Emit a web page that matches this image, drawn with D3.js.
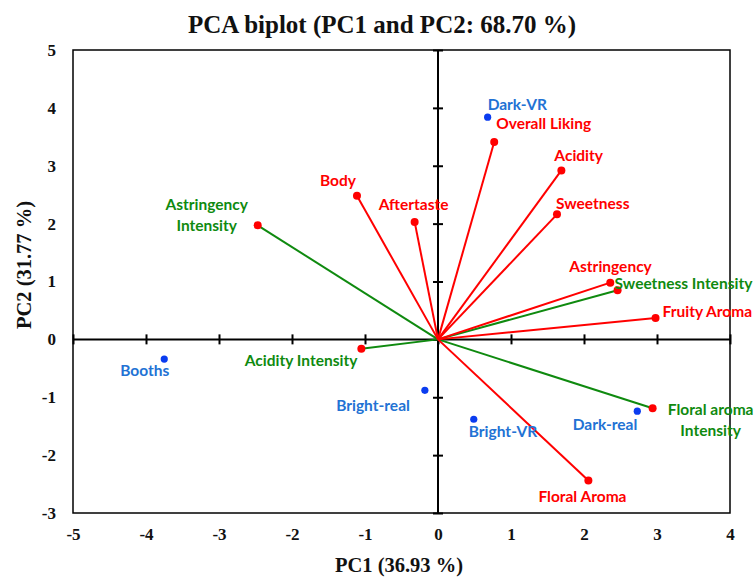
<!DOCTYPE html>
<html>
<head>
  <title>PCA biplot</title>
  <meta charset="utf-8">
  <script src="https://cdnjs.cloudflare.com/ajax/libs/d3/7.8.5/d3.min.js"></script>
  <style>
    body { margin: 0; background: #fff; }
    .serif { font-family: "Liberation Serif", serif; font-weight: bold; }
    .lbl { font-family: Lato, "Open Sans", sans-serif; font-weight: bold; font-size: 15.5px; }
  </style>
</head>
<body>
<svg id="chart" width="756" height="583"></svg>
<script>
  // sensory attributes (vectors from the origin)
  var attrNames = ["Overall Liking", "Acidity", "Sweetness", "Aftertaste", "Body",
                   "Astringency", "Fruity Aroma", "Floral Aroma"];
  var attrPC1 = [0.77, 1.69, 1.63, -0.32, -1.11, 2.36, 2.98, 2.06];
  var attrPC2 = [3.41, 2.92, 2.16, 2.03, 2.48, 0.98, 0.37, -2.44];

  // intensity attributes (green vectors)
  var intNames = [["Astringency", "Intensity"], ["Sweetness Intensity"],
                  ["Floral aroma", "Intensity"], ["Acidity Intensity"]];
  var intPC1 = [-2.47, 2.46, 2.94, -1.05];
  var intPC2 = [1.97, 0.85, -1.19, -0.16];

  // samples (blue points)
  var sampleNames = ["Dark-VR", "Booths", "Bright-real", "Bright-VR", "Dark-real"];
  var samplePC1 = [0.68, -3.75, -0.18, 0.49, 2.73];
  var samplePC2 = [3.84, -0.34, -0.88, -1.38, -1.24];

  var xTicks = [-5, -4, -3, -2, -1, 0, 1, 2, 3, 4];
  var yTicks = [-3, -2, -1, 0, 1, 2, 3, 4, 5];

  // label placement (pixels relative to the point)
  var attrLabelPos = [[2, -13, "start"], [-7, -9, "start"], [-1, -5, "start"], [-36, -12, "start"],
                      [-37, -10, "start"], [-41, -11, "start"], [7, -1, "start"], [-50, 21, "start"]];
  var intLabelPos = [[-51, -15, "middle"], [-3, -1, "start"], [58, 7, "middle"], [-4, 17, "end"]];
  var sampleLabelPos = [[0, -7, "start"], [-44, 17, "start"], [-15, 21, "end"], [-5, 18, "start"], [0, 19, "end"]];

  var red = "#ff0000", green = "#0f8a0f", blueDot = "#0a3cf0", blueText = "#2272d4";

  var svg = d3.select("#chart");
  var pLeft = 73, pRight = 730, pTop = 50, pBottom = 513;

  var x = d3.scaleLinear().domain([-5, 4]).range([pLeft, pRight]);
  var y = d3.scaleLinear().domain([-3, 5]).range([pBottom, pTop]);
  var fmt = function(d) { return String(d); };

  // frame
  svg.append("rect")
    .attr("x", pLeft).attr("y", pTop)
    .attr("width", pRight - pLeft).attr("height", pBottom - pTop)
    .attr("fill", "none").attr("stroke", "#000").attr("stroke-width", 1.5);

  // tick labels along the frame
  var xLab = svg.append("g").attr("transform", "translate(0," + (pBottom + 15) + ")")
    .call(d3.axisBottom(x).tickValues(xTicks).tickSize(0).tickPadding(0).tickFormat(fmt));
  xLab.select(".domain").remove();
  xLab.selectAll("text").attr("class", "serif").style("font-size", "17px").attr("fill", "#111")
    .attr("dy", "0.71em");

  var yLab = svg.append("g").attr("transform", "translate(" + (pLeft - 17) + ",0)")
    .call(d3.axisLeft(y).tickValues(yTicks).tickSize(0).tickPadding(0).tickFormat(fmt));
  yLab.select(".domain").remove();
  yLab.selectAll("text").attr("class", "serif").style("font-size", "17px").attr("fill", "#111");

  // axes through the origin with crossing ticks
  var xAx = svg.append("g").attr("transform", "translate(0," + y(0) + ")")
    .call(d3.axisBottom(x).tickValues(xTicks).tickSize(5).tickSizeOuter(0).tickFormat(""));
  xAx.select(".domain").attr("stroke-width", 2).attr("d", "M" + pLeft + ",0H" + pRight);
  xAx.selectAll(".tick line").attr("y1", -5).attr("y2", 5).attr("stroke-width", 2);

  var yAx = svg.append("g").attr("transform", "translate(" + x(0) + ",0)")
    .call(d3.axisLeft(y).tickValues(yTicks).tickSize(5).tickSizeOuter(0).tickFormat(""));
  yAx.select(".domain").attr("stroke-width", 2).attr("d", "M0," + pTop + "V" + pBottom);
  yAx.selectAll(".tick line").attr("x1", -5).attr("x2", 5).attr("stroke-width", 2);

  // vectors
  function drawVectors(px, py, color) {
    var g = svg.append("g");
    g.selectAll("line").data(px).enter().append("line")
      .attr("x1", x(0)).attr("y1", y(0))
      .attr("x2", function(d) { return x(d); })
      .attr("y2", function(d, i) { return y(py[i]); })
      .attr("stroke", color).attr("stroke-width", 2);
    g.selectAll("circle").data(px).enter().append("circle")
      .attr("cx", function(d) { return x(d); })
      .attr("cy", function(d, i) { return y(py[i]); })
      .attr("r", 4).attr("fill", red);
  }
  drawVectors(intPC1, intPC2, green);
  drawVectors(attrPC1, attrPC2, red);

  // samples
  svg.append("g").selectAll("circle").data(samplePC1).enter().append("circle")
    .attr("cx", function(d) { return x(d); })
    .attr("cy", function(d, i) { return y(samplePC2[i]); })
    .attr("r", 3.6).attr("fill", blueDot);

  // labels
  function drawLabels(names, px, py, pos, color) {
    names.forEach(function(n, i) {
      var lines = Array.isArray(n) ? n : [n];
      var t = svg.append("text").attr("class", "lbl").attr("fill", color)
        .attr("text-anchor", pos[i][2]);
      lines.forEach(function(s, k) {
        t.append("tspan")
          .attr("x", x(px[i]) + pos[i][0])
          .attr("y", y(py[i]) + pos[i][1] + k * 21)
          .text(s);
      });
    });
  }
  drawLabels(attrNames, attrPC1, attrPC2, attrLabelPos, red);
  drawLabels(intNames, intPC1, intPC2, intLabelPos, green);
  drawLabels(sampleNames, samplePC1, samplePC2, sampleLabelPos, blueText);

  // titles
  svg.append("text").attr("class", "serif").attr("x", 382).attr("y", 33)
    .attr("text-anchor", "middle").style("font-size", "25px").attr("fill", "#111")
    .text("PCA biplot (PC1 and PC2: 68.70 %)");
  svg.append("text").attr("class", "serif").attr("x", 399).attr("y", 572)
    .attr("text-anchor", "middle").style("font-size", "20.5px").attr("fill", "#111")
    .text("PC1 (36.93 %)");
  svg.append("text").attr("class", "serif")
    .attr("transform", "translate(31,265) rotate(-90)")
    .attr("text-anchor", "middle").style("font-size", "20.5px").attr("fill", "#111")
    .text("PC2 (31.77 %)");
</script>
</body>
</html>
